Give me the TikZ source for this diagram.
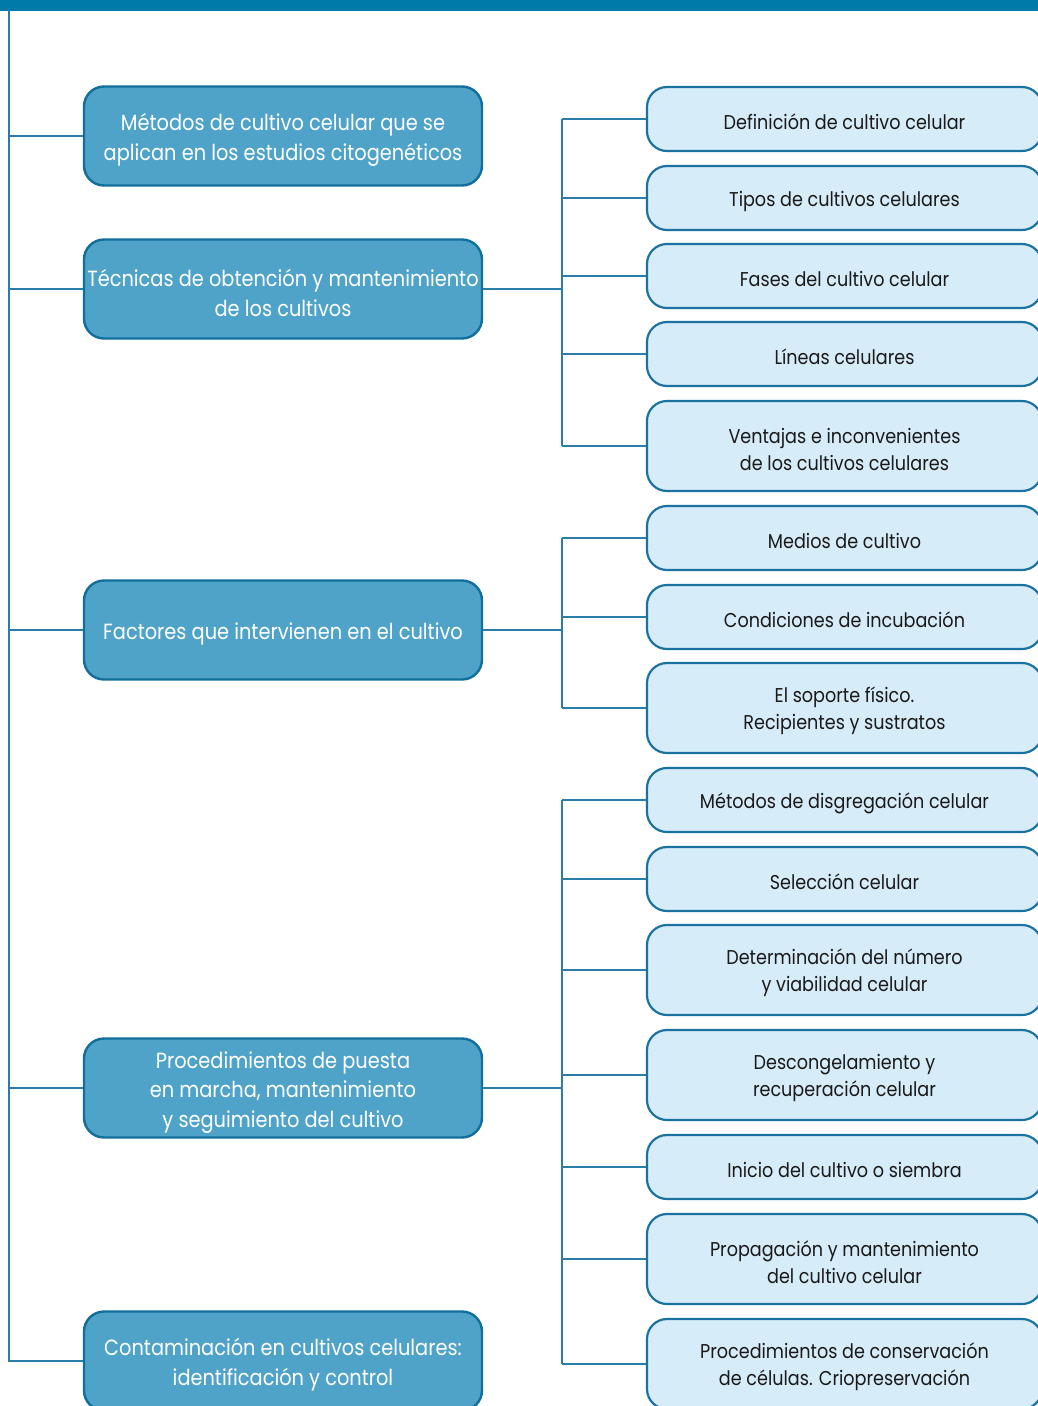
\documentclass[tikz,border=0pt]{standalone}
\usepackage{fontspec}
\setmainfont[FakeStretch=0.88]{Poppins}
\definecolor{bar}{HTML}{007AA8}
\definecolor{lfill}{HTML}{4FA3C8}
\definecolor{ldraw}{HTML}{106F9C}
\definecolor{rfill}{HTML}{D7ECF9}
\definecolor{rdraw}{HTML}{1A72A0}
\definecolor{conn}{HTML}{2A7DAA}
\newcommand\Lst{\rule{0pt}{25pt}}
\newcommand\Rst{\rule{0pt}{21.5pt}}
\begin{document}
\begin{tikzpicture}[x=1pt,y=-1pt,
  lbox/.style={draw=ldraw,line width=2.4pt,fill=lfill,rounded corners=20pt,
    minimum width=398pt,minimum height=99pt,align=center,text=white,
    font=\fontsize{22}{29.5}\selectfont,inner sep=0pt},
  rbox/.style={draw=rdraw,line width=2.2pt,fill=rfill,rounded corners=20pt,
    minimum width=395pt,minimum height=64pt,align=center,text=black!90,
    font=\fontsize{20}{27}\selectfont,inner sep=0pt},
  tall/.style={minimum height=90pt},
  link/.style={draw=conn,line width=1.3pt}]
\useasboundingbox (0,0) rectangle (1038,1406);
\clip (0,0) rectangle (1038,1406);
\fill[bar] (0,0) rectangle (1038,11);
\coordinate (sp) at (9,11);
\coordinate (b) at (562,0);
% left boxes
\node[lbox] (L1) at (283,136) {\Lst Métodos de cultivo celular que se\\aplican en los estudios citogenéticos};
\node[lbox] (L2) at (283,289) {\Lst Técnicas de obtención y mantenimiento\\de los cultivos};
\node[lbox] (L3) at (283,630) {\Lst Factores que intervienen en el cultivo};
\node[lbox] (L4) at (283,1088) {\Lst Procedimientos de puesta\\en marcha, mantenimiento\\y seguimiento del cultivo};
\node[lbox] (L5) at (283,1361) {\Lst Contaminación en cultivos celulares:\\identificación y control};
% right boxes
\node[rbox] (R1) at (844.5,119) {\Rst Definición de cultivo celular};
\node[rbox] (R2) at (844.5,198) {\Rst Tipos de cultivos celulares};
\node[rbox] (R3) at (844.5,276) {\Rst Fases del cultivo celular};
\node[rbox] (R4) at (844.5,354) {\Rst Líneas celulares};
\node[rbox,tall] (R5) at (844.5,446) {\Rst Ventajas e inconvenientes\\de los cultivos celulares};
\node[rbox] (R6) at (844.5,538) {\Rst Medios de cultivo};
\node[rbox] (R7) at (844.5,617) {\Rst Condiciones de incubación};
\node[rbox,tall] (R8) at (844.5,708) {\Rst El soporte físico.\\Recipientes y sustratos};
\node[rbox] (R9) at (844.5,800) {\Rst Métodos de disgregación celular};
\node[rbox] (R10) at (844.5,879) {\Rst Selección celular};
\node[rbox,tall] (R11) at (844.5,970) {\Rst Determinación del número\\y viabilidad celular};
\node[rbox,tall] (R12) at (844.5,1075) {\Rst Descongelamiento y\\recuperación celular};
\node[rbox] (R13) at (844.5,1167) {\Rst Inicio del cultivo o siembra};
\node[rbox,tall] (R14) at (844.5,1259) {\Rst Propagación y mantenimiento\\del cultivo celular};
\node[rbox,tall] (R15) at (844.5,1364) {\Rst Procedimientos de conservación\\de células. Criopreservación};
% spine
\draw[link] (sp) |- (L5.west);
\foreach \n in {L1,L2,L3,L4} \draw[link] (\n.west -| sp) -- (\n.west);
% brackets
\foreach \n in {L2,L3,L4} \draw[link] (\n.east) -- (\n.east -| b);
\foreach \n in {R1,R2,R3,R4,R5,R6,R7,R8,R9,R10,R11,R12,R13,R14,R15}
  \draw[link] (\n.west -| b) -- (\n.west);
\draw[link] (R1.west -| b) -- (R5.west -| b);
\draw[link] (R6.west -| b) -- (R8.west -| b);
\draw[link] (R9.west -| b) -- (R15.west -| b);
\end{tikzpicture}
\end{document}
